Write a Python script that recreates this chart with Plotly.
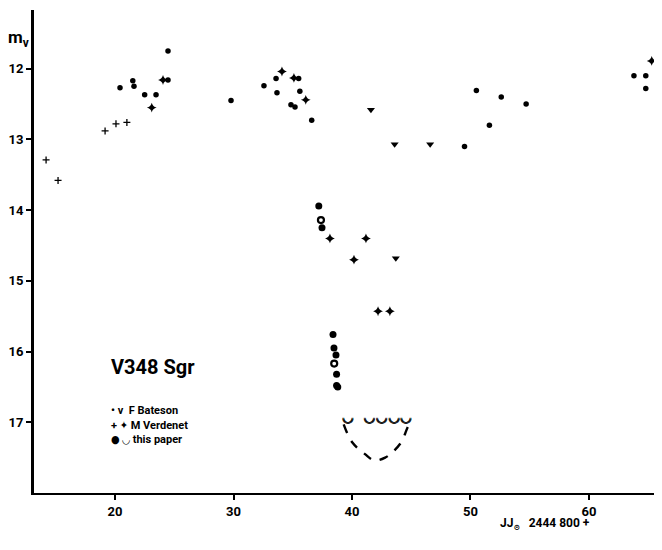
import plotly.graph_objects as go

# F Bateson: observations (small dots) and upper limits (v)
bat_x = [20.42, 21.5, 21.6, 22.5, 23.46, 24.47, 24.47, 29.79, 32.57, 33.59, 33.67, 35.5, 35.6,
         34.85, 35.19, 36.6, 49.5, 50.5, 51.6, 52.6, 54.7, 63.8, 64.8, 64.8, 65.8]
bat_y = [12.27, 12.17, 12.25, 12.37, 12.37, 12.16, 11.75, 12.45, 12.24, 12.14, 12.34, 12.14, 12.32,
         12.51, 12.54, 12.73, 13.10, 12.31, 12.80, 12.40, 12.50, 12.10, 12.10, 12.28, 11.80]
bat_lim_x = [41.6, 43.6, 46.6, 43.7]
bat_lim_y = [12.58, 13.07, 13.07, 14.68]

# M Verdenet: two kinds of crosses
ver_x = [14.18, 15.19, 19.16, 20.08, 21.0]
ver_y = [13.29, 13.58, 12.88, 12.78, 12.76]
ver2_x = [23.1, 24.05, 34.09, 35.1, 36.1, 38.14, 41.18, 40.17, 42.2, 43.2, 65.3]
ver2_y = [12.55, 12.16, 12.04, 12.13, 12.44, 14.40, 14.40, 14.70, 15.43, 15.43, 11.89]

# this paper: observations (dots), upper limits (cups), and dashed curve
tp_x = [37.2, 37.47, 38.4, 38.48, 38.65, 38.7, 38.7, 38.8]
tp_y = [13.94, 14.25, 15.76, 15.95, 16.05, 16.32, 16.48, 16.50]
tp_open_x = [37.38, 38.5]
tp_open_y = [14.14, 16.17]
tp_lim_x = [39.6, 41.4, 42.45, 43.5, 44.5]
tp_lim_y = [16.93, 16.93, 16.93, 16.93, 16.93]
curve_x = [39.3, 40.0, 41.1, 41.9, 42.8, 43.5, 44.2, 44.7, 45.0]
curve_y = [17.03, 17.28, 17.45, 17.54, 17.50, 17.41, 17.27, 17.07, 16.98]

x_ticks = [20, 30, 40, 50, 60]
y_ticks = [12, 13, 14, 15, 16, 17]

FONT = "Roboto, Liberation Sans Narrow, DejaVu Sans Condensed, sans-serif"

fig = go.Figure()
fig.add_trace(go.Scatter(x=curve_x, y=curve_y, mode="lines", line_shape="spline",
                         line=dict(color="black", width=2.4, dash="dash"), hoverinfo="skip"))
fig.add_trace(go.Scatter(x=bat_x, y=bat_y, mode="markers",
                         marker=dict(symbol="circle", size=5.5, color="black")))
fig.add_trace(go.Scatter(x=bat_lim_x, y=bat_lim_y, mode="markers",
                         marker=dict(symbol="triangle-down", size=7, color="black")))
fig.add_trace(go.Scatter(x=ver_x, y=ver_y, mode="markers",
                         marker=dict(symbol="cross-thin", size=5, color="black",
                                     line=dict(color="black", width=1.3))))
fig.add_trace(go.Scatter(x=ver2_x, y=ver2_y, mode="markers",
                         marker=dict(symbol="star-diamond", size=7, color="black")))
fig.add_trace(go.Scatter(x=tp_x, y=tp_y, mode="markers",
                         marker=dict(symbol="circle", size=7, color="black")))
fig.add_trace(go.Scatter(x=tp_open_x, y=tp_open_y, mode="markers",
                         marker=dict(symbol="circle-open", size=6, color="black",
                                     line=dict(color="black", width=2.2))))
fig.add_trace(go.Scatter(x=tp_lim_x, y=tp_lim_y, mode="text", text=["◡"] * len(tp_lim_x),
                         textposition="middle center",
                         textfont=dict(family="DejaVu Sans", size=13, color="black",
                                       shadow="1px 0px 0px black, 0px 1px 0px black, 1px 1px 0px black")))

fig.update_layout(
    width=654, height=542,
    margin=dict(l=26, r=2, t=2, b=57),
    paper_bgcolor="white", plot_bgcolor="white",
    showlegend=False,
    font=dict(family=FONT, color="black", size=12),
    xaxis=dict(range=[13.16, 66.0], tickvals=x_ticks, ticks="outside", ticklen=5,
               tickwidth=1.5, tickcolor="black", showline=True, linecolor="black",
               linewidth=2.2, showgrid=False, zeroline=False, automargin=False,
               tickfont=dict(family=FONT, size=13, color="black", weight="bold")),
    yaxis=dict(range=[18.0, 11.17], tickvals=y_ticks, ticktext=["12", "13", "14", "15", "16", "17"],
               ticks="outside", ticklen=5, tickwidth=1.5, tickcolor="black", showline=True,
               linecolor="black", linewidth=3, showgrid=False, zeroline=False, automargin=False,
               tickfont=dict(family=FONT, size=13, color="black", weight="bold")),
    annotations=[
        dict(xref="paper", yref="paper", x=-0.044, y=0.94, xanchor="left", yanchor="middle",
             text="<b>m<sub>v</sub></b>", showarrow=False,
             font=dict(family=FONT, size=17, color="black")),
        dict(xref="x", yref="y", x=19.5, y=16.22, xanchor="left", yanchor="middle",
             text="<b>V348 Sgr</b>", showarrow=False,
             font=dict(family=FONT, size=20, color="black")),
        dict(xref="x", yref="y", x=19.5, y=16.83, xanchor="left", yanchor="middle",
             text="<b>• v  F Bateson</b>", showarrow=False,
             font=dict(family=FONT, size=11, color="black")),
        dict(xref="x", yref="y", x=19.5, y=17.04, xanchor="left", yanchor="middle",
             text="<b>+ ✦ M Verdenet</b>", showarrow=False,
             font=dict(family=FONT, size=11, color="black")),
        dict(xref="x", yref="y", x=19.5, y=17.25, xanchor="left", yanchor="middle",
             text="<b>● ◡ this paper</b>", showarrow=False,
             font=dict(family=FONT, size=11, color="black")),
        dict(xref="paper", yref="paper", x=0.816, y=-0.044, xanchor="center", yanchor="top",
             text="<b>JJ<sub>⊙</sub>   2444 800 +</b>", showarrow=False,
             font=dict(family=FONT, size=12, color="black")),
    ],
)

fig.write_html("out.html")
